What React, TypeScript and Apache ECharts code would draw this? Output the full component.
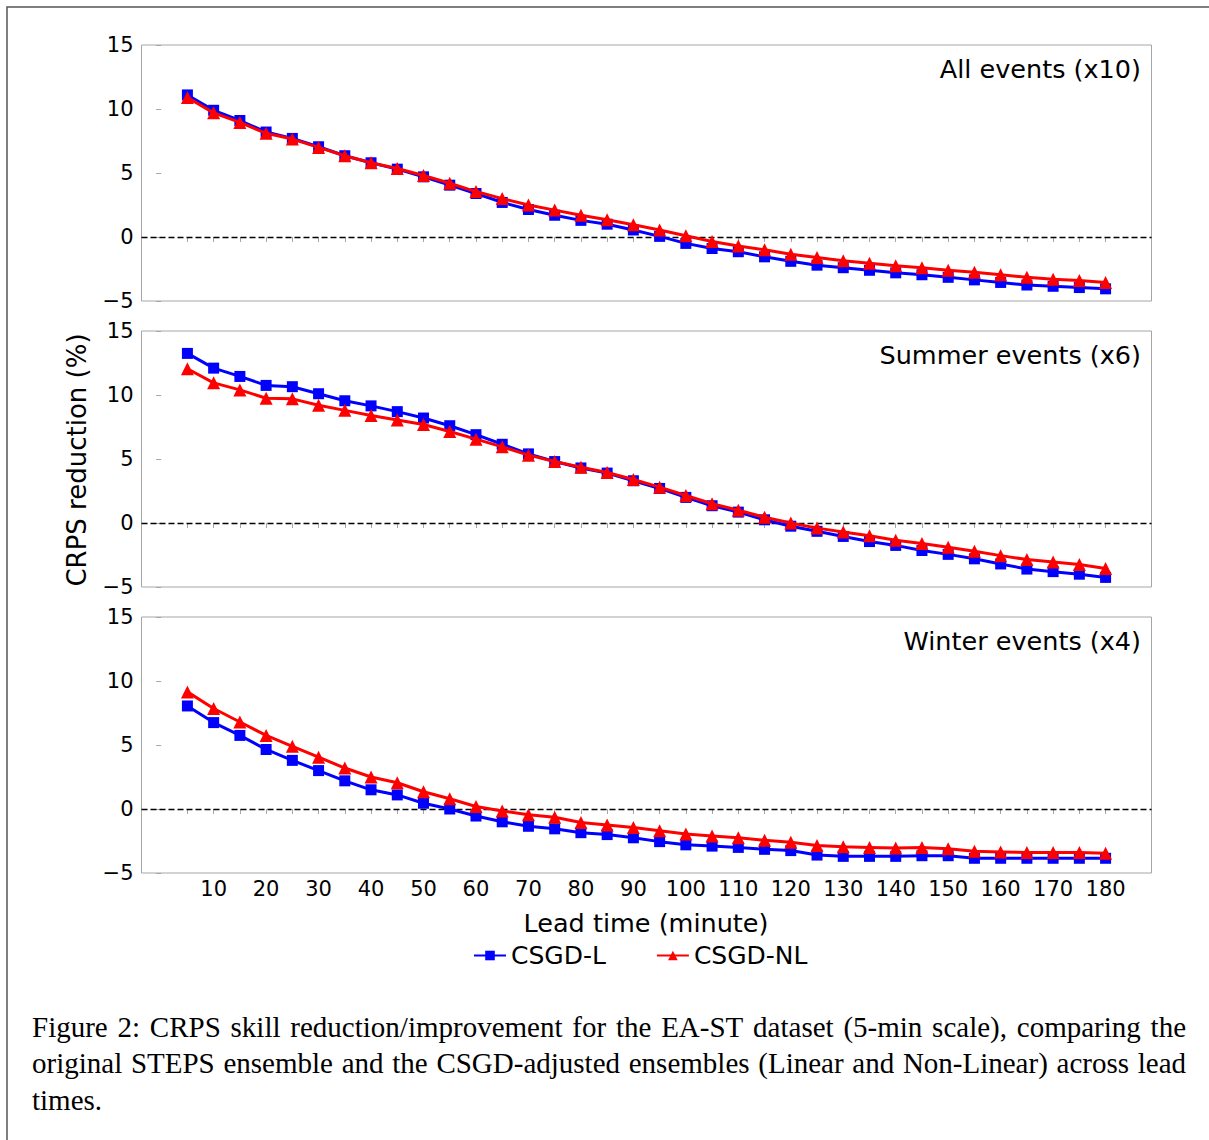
import React, { useEffect, useRef } from "react";
import * as echarts from "echarts";

const leadTimes = [5, 10, 15, 20, 25, 30, 35, 40, 45, 50, 55, 60, 65, 70, 75, 80, 85, 90, 95, 100, 105, 110, 115, 120, 125, 130, 135, 140, 145, 150, 155, 160, 165, 170, 175, 180];
const xLabelValues = [10, 20, 30, 40, 50, 60, 70, 80, 90, 100, 110, 120, 130, 140, 150, 160, 170, 180];

const allL = [11.1, 9.9, 9.1, 8.2, 7.7, 7.05, 6.35, 5.8, 5.3, 4.7, 4.05, 3.4, 2.7, 2.15, 1.7, 1.3, 1.0, 0.55, 0.05, -0.5, -0.9, -1.15, -1.55, -1.9, -2.2, -2.4, -2.6, -2.8, -2.95, -3.15, -3.35, -3.55, -3.75, -3.85, -3.95, -4.05];
const allNL = [10.9, 9.7, 8.95, 8.1, 7.65, 7.0, 6.35, 5.8, 5.35, 4.8, 4.2, 3.55, 3.0, 2.5, 2.1, 1.7, 1.35, 0.95, 0.55, 0.1, -0.35, -0.7, -1.0, -1.35, -1.6, -1.85, -2.05, -2.25, -2.4, -2.6, -2.75, -2.95, -3.15, -3.3, -3.4, -3.55];
const summerL = [13.25, 12.1, 11.45, 10.75, 10.65, 10.1, 9.55, 9.15, 8.7, 8.2, 7.6, 6.9, 6.15, 5.4, 4.8, 4.3, 3.9, 3.3, 2.7, 2.0, 1.35, 0.85, 0.25, -0.25, -0.65, -1.05, -1.45, -1.75, -2.15, -2.45, -2.8, -3.2, -3.6, -3.8, -4.0, -4.25];
const summerNL = [12.05, 10.95, 10.4, 9.75, 9.7, 9.2, 8.8, 8.4, 8.05, 7.7, 7.15, 6.55, 5.95, 5.3, 4.8, 4.35, 3.95, 3.4, 2.8, 2.15, 1.5, 1.0, 0.45, 0.0, -0.4, -0.7, -1.0, -1.35, -1.6, -1.9, -2.2, -2.55, -2.85, -3.05, -3.25, -3.55];
const winterL = [8.05, 6.75, 5.75, 4.65, 3.8, 3.0, 2.2, 1.5, 1.1, 0.45, 0.0, -0.55, -1.0, -1.35, -1.55, -1.85, -2.0, -2.25, -2.55, -2.8, -2.9, -3.0, -3.15, -3.25, -3.6, -3.7, -3.7, -3.7, -3.65, -3.65, -3.85, -3.85, -3.85, -3.85, -3.85, -3.85];
const winterNL = [9.15, 7.85, 6.8, 5.75, 4.9, 4.05, 3.2, 2.5, 2.05, 1.35, 0.8, 0.2, -0.15, -0.45, -0.65, -1.05, -1.25, -1.45, -1.7, -1.95, -2.1, -2.25, -2.45, -2.6, -2.85, -2.95, -3.0, -3.05, -3.0, -3.1, -3.3, -3.35, -3.4, -3.4, -3.4, -3.45];

const panelTitles = ["All events (x10)", "Summer events (x6)", "Winter events (x4)"];
const seriesNames = ["CSGD-L", "CSGD-NL"];
const yLabel = "CRPS reduction (%)";
const xLabel = "Lead time (minute)";
const captionLines = [
  "Figure 2:  CRPS skill reduction/improvement for the EA-ST dataset (5-min scale), comparing the",
  "original STEPS ensemble and the CSGD-adjusted ensembles (Linear and Non-Linear) across lead",
  "times.",
];

const panels = [
  { title: panelTitles[0], l: allL, nl: allNL },
  { title: panelTitles[1], l: summerL, nl: summerNL },
  { title: panelTitles[2], l: winterL, nl: winterNL },
];

const SANS = "DejaVu Sans";
const SERIF = "Liberation Serif";

export default function App() {
  const ref = useRef<HTMLDivElement>(null);
  useEffect(() => {
    if (!ref.current) return;
    const chart = echarts.init(ref.current, null, { renderer: "svg" });

    const gridLeft = 141.5;
    const gridWidth = 1010;
    const gridHeight = 256;
    const tops = [45, 331, 617];
    const minus = (v: number) => String(v).replace("-", "\u2212");

    const grids = tops.map((t) => ({
      left: gridLeft,
      top: t,
      width: gridWidth,
      height: gridHeight,
      show: true,
      borderColor: "#a6a6a6",
      borderWidth: 1,
      backgroundColor: "transparent",
      containLabel: false,
    }));

    const xAxes = tops.map((_, i) => ({
      type: "value",
      gridIndex: i,
      min: -3.75,
      max: 188.75,
      axisLine: { show: false },
      splitLine: { show: false },
      axisTick: {
        show: true,
        inside: false,
        length: 5,
        customValues: leadTimes,
        lineStyle: { color: "#a6a6a6", width: 1 },
      },
      axisLabel: {
        show: i === 2,
        customValues: xLabelValues,
        fontSize: 21,
        fontFamily: SANS,
        color: "#000",
        margin: 5,
      },
    }));

    const yAxes = tops.map((_, i) => ({
      type: "value",
      gridIndex: i,
      min: -5,
      max: 15,
      interval: 5,
      axisLine: { show: false },
      splitLine: { show: false },
      axisTick: { show: true, inside: false, length: 5, lineStyle: { color: "#a6a6a6", width: 1 } },
      axisLabel: { fontSize: 21, fontFamily: SANS, color: "#000", margin: 8, formatter: minus },
    }));

    const series: any[] = [];
    panels.forEach((p, i) => {
      series.push({
        name: seriesNames[0],
        type: "line",
        xAxisIndex: i,
        yAxisIndex: i,
        data: leadTimes.map((t, k) => [t, p.l[k]]),
        symbol: "rect",
        symbolSize: 11,
        itemStyle: { color: "#0000ff" },
        lineStyle: { color: "#0000ff", width: 3 },
        z: 3,
        markLine: {
          silent: true,
          symbol: "none",
          label: { show: false },
          lineStyle: { color: "#000", type: [6, 3], width: 1.3 },
          data: [{ yAxis: 0 }],
          z: 2,
        },
      });
      series.push({
        name: seriesNames[1],
        type: "line",
        xAxisIndex: i,
        yAxisIndex: i,
        data: leadTimes.map((t, k) => [t, p.nl[k]]),
        symbol: "triangle",
        symbolSize: 13,
        itemStyle: { color: "#ff0000" },
        lineStyle: { color: "#ff0000", width: 3 },
        z: 4,
      });
    });

    // caption, justified
    const capSize = 29;
    const canvas = document.createElement("canvas");
    const ctx = canvas.getContext("2d")!;
    ctx.font = `${capSize}px "${SERIF}"`;
    const capLeft = 32;
    const capRight = 1186;
    const capYs = [1027, 1063, 1100];
    const captionEls: any[] = [];
    captionLines.forEach((line, li) => {
      const words = line.split(/\s+/);
      const justify = li < captionLines.length - 1;
      const widths = words.map((w) => ctx.measureText(w).width);
      const total = widths.reduce((a, b) => a + b, 0);
      const gap = justify && words.length > 1 ? (capRight - capLeft - total) / (words.length - 1) : ctx.measureText(" ").width;
      let x = capLeft;
      words.forEach((w, k) => {
        captionEls.push({
          type: "text",
          x,
          y: capYs[li],
          style: {
            text: w,
            font: `${capSize}px "${SERIF}"`,
            fill: "#000",
            textAlign: "left",
            textVerticalAlign: "middle",
          },
        });
        x += widths[k] + gap;
      });
    });

    const graphic: any[] = [
      {
        type: "polyline",
        shape: { points: [[7, 1150], [7, 7], [1215, 7]] },
        style: { stroke: "#555", lineWidth: 1.5, fill: null },
      },
      ...panels.map((p, i) => ({
        type: "text",
        x: 1141,
        y: tops[i] + 24,
        style: {
          text: p.title,
          font: `25.5px "${SANS}"`,
          fill: "#000",
          textAlign: "right",
          textVerticalAlign: "middle",
        },
      })),
      {
        type: "text",
        x: 77,
        y: 460,
        rotation: Math.PI / 2,
        style: {
          text: yLabel,
          font: `26px "${SANS}"`,
          fill: "#000",
          textAlign: "center",
          textVerticalAlign: "middle",
        },
      },
      {
        type: "text",
        x: 646,
        y: 923,
        style: {
          text: xLabel,
          font: `25.5px "${SANS}"`,
          fill: "#000",
          textAlign: "center",
          textVerticalAlign: "middle",
        },
      },
      ...captionEls,
    ];

    chart.setOption({
      animation: false,
      backgroundColor: "#fff",
      grid: grids,
      xAxis: xAxes,
      yAxis: yAxes,
      series,
      legend: {
        data: seriesNames,
        left: 468,
        top: 938,
        itemWidth: 32,
        itemHeight: 12,
        itemGap: 50,
        textStyle: { fontSize: 25, fontFamily: SANS, color: "#000" },
      },
      graphic,
    });
    return () => chart.dispose();
  }, []);

  return (
    <div
      ref={ref}
      style={{ position: "absolute", left: 0, top: 0, width: 1209, height: 1140 }}
    />
  );
}
